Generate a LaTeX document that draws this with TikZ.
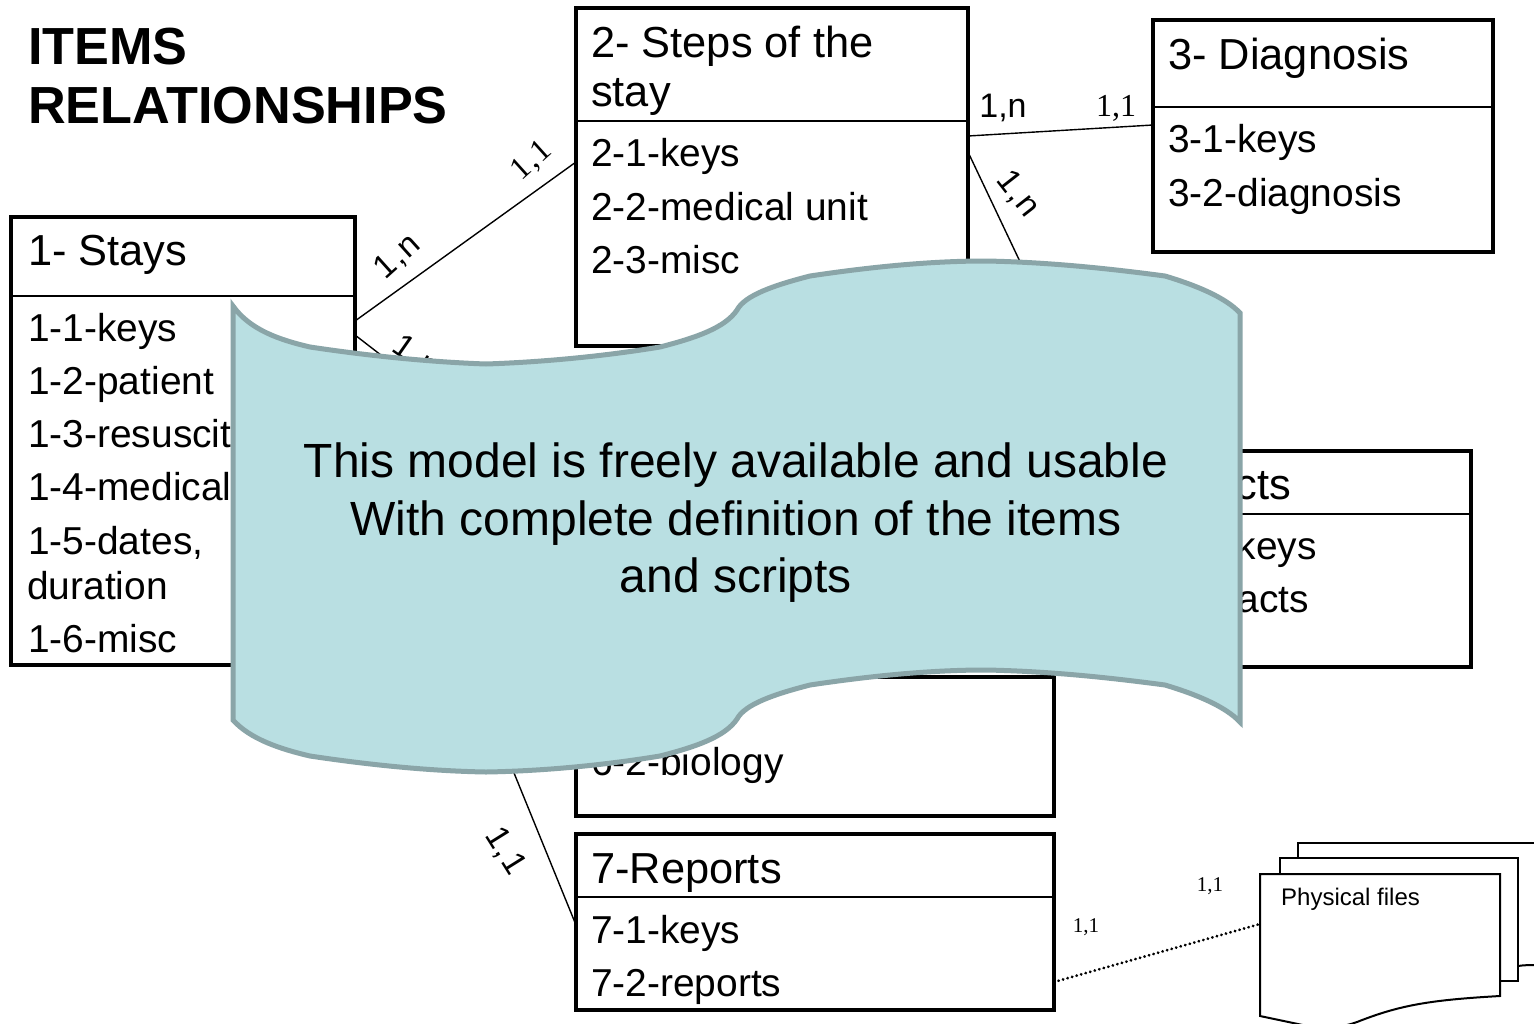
\documentclass[tikz,border=0pt]{standalone}
\usepackage{fontspec}
\setmainfont{Liberation Sans}
\newfontfamily\lblserif{Liberation Serif}
\newfontfamily\lblspaced[LetterSpace=5]{Liberation Sans}
\newfontfamily\lblserifspaced[LetterSpace=4]{Liberation Serif}
\definecolor{bannerfill}{HTML}{B9DFE2}
\definecolor{bannerline}{HTML}{8AA5A8}
\newcommand{\fs}[1]{\fontsize{#1}{#1}\selectfont}
\tikzset{
  entity/.style={draw=black,line width=4.6pt,fill=white,rectangle,outer sep=0pt,inner sep=0pt,anchor=north west},
  divider/.style={draw=black,line width=2pt},
  link/.style={draw=black,line width=1.4pt},
  head/.style={anchor=base west,inner sep=0pt,font=\fs{43.4}},
  item/.style={anchor=base west,inner sep=0pt,font=\fs{38.9}},
  heade/.style={anchor=base east,inner sep=0pt,font=\fs{43.4}},
  iteme/.style={anchor=base east,inner sep=0pt,font=\fs{38.9}},
  titletext/.style={anchor=base west,inner sep=0pt,font=\fs{52.2}\bfseries},
  cardsans/.style={inner sep=0pt,font=\fs{34}},
  cardserif/.style={inner sep=0pt,font=\fs{32}\lblserif},
  cardrot/.style={inner sep=0pt,font=\fs{33}\lblspaced},
  cardserifrot/.style={inner sep=0pt,font=\fs{32}\lblserifspaced},
  cardsmall/.style={inner sep=0pt,font=\fs{21}\lblserif},
  sheet/.style={draw=black,line width=2pt,fill=white,line join=miter},
  bannertext/.style={inner sep=0pt,font=\fs{48},align=center},
}
\begin{document}
\begin{tikzpicture}[x=1pt,y=-1pt]
\useasboundingbox (0,0) rectangle (1534,1023);
\fill[white] (0,0) rectangle (1534,1023);

% title
\node[titletext] (t1) at (28,64) {ITEMS};
\node[titletext] (t2) at (28,123) {RELATIONSHIPS};

% entities
\node[entity,minimum width=344pt,minimum height=448pt] (b1) at (11,217) {};
\node[entity,minimum width=392pt,minimum height=338pt] (b2) at (576,8) {};
\node[entity,minimum width=340pt,minimum height=232pt] (b3) at (1153,20) {};
\node[entity,minimum width=371pt,minimum height=216pt] (b4) at (1100,451) {};
\node[entity,minimum width=478pt,minimum height=139pt] (b6) at (576,677) {};
\node[entity,minimum width=478pt,minimum height=176pt] (b7) at (576,834) {};

% dividers
\draw[divider] (b1.west |- 0,296) -- (b1.east |- 0,296);
\draw[divider] (b2.west |- 0,121) -- (b2.east |- 0,121);
\draw[divider] (b3.west |- 0,107) -- (b3.east |- 0,107);
\draw[divider] (b4.west |- 0,514) -- (b4.east |- 0,514);
\draw[divider] (b7.west |- 0,897) -- (b7.east |- 0,897);

% hidden connector ends
\coordinate (h1) at (430,393);
\coordinate (h2) at (1060,346);
\coordinate (h3) at (470,665);

% connectors
\draw[link] (b1.east |- 0,321) -- (b2.west |- 0,162);
\draw[link] (b2.east |- 0,136) -- (b3.west |- 0,125);
\draw[link] (b2.east |- 0,152) -- (h2);
\draw[link] (b1.east |- 0,335) -- (h1);
\draw[link] (h3) -- (b7.west |- 0,925);

% entity texts
\node[head] (a0) at (28,265) {1- Stays};
\node[item] (a1) at (28,341) {1-1-keys};
\node[item] (a2) at (28,394) {1-2-patient};
\node[item] (a3) at (28,447) {1-3-resuscit};
\node[item] (a4) at (28,500) {1-4-medical};
\node[item] (a5) at (28,554) {1-5-dates,};
\node[item] (a6) at (27,599) {duration};
\node[item] (a7) at (28,652) {1-6-misc};

\node[head] (c0) at (591,57) {2- Steps of the};
\node[head] (c1) at (591,106) {stay};
\node[item] (c2) at (591,166) {2-1-keys};
\node[item] (c3) at (591,220) {2-2-medical unit};
\node[item] (c4) at (591,273) {2-3-misc};

\node[head] (d0) at (1168,69) {3- Diagnosis};
\node[item] (d1) at (1168,152) {3-1-keys};
\node[item] (d2) at (1168,206) {3-2-diagnosis};

\node[heade] (e0) at (1291,499) {cts};
\node[iteme] (e1) at (1317,559) {keys};
\node[iteme] (e2) at (1309,612) {acts};

\node[item] (f1) at (591,775) {6-2-biology};

\node[head] (g0) at (591,883) {7-Reports};
\node[item] (g1) at (591,943) {7-1-keys};
\node[item] (g2) at (591,996) {7-2-reports};

% cardinalities
\node[cardsans] (l1) at (1003,108) {1,n};
\node[cardserif] (l2) at (1116,108) {1,1};
\node[cardrot,rotate=-52] (l3) at (1018,194) {1,n};
\node[cardrot,rotate=42] (l4) at (398,257) {1,n};
\node[cardserifrot,rotate=42] (l5) at (532,161) {1,1};
\node[cardrot,rotate=-35] (l6) at (416,357) {1,n};
\node[cardrot,rotate=-58] (l7) at (505,851) {1,1};
\node[cardsmall] (l8) at (1210,886) {1,1};
\node[cardsmall] (l9) at (1086,927) {1,1};

% stacked document
\draw[sheet] (1298,858) -- (1298,843) -- (1540,843);
\draw[sheet] (1518,966) .. controls (1524,965) and (1530,965) .. (1540,965);
\draw[sheet] (1280,873) -- (1280,858) -- (1518,858) -- (1518,981) -- (1500,981);
\path[sheet] (1260,874) -- (1500,874) -- (1500,996)
  .. controls (1430,1000) and (1400,1005) .. (1357,1022)
  .. controls (1335,1030) and (1315,1028) .. (1298,1024)
  -- (1260,1016) -- cycle;
\node[anchor=base west,inner sep=0pt,font=\fs{24}] (p1) at (1281,905) {Physical files};
\coordinate (pf) at (1260,924);
\draw[draw=black,line width=3pt,line cap=round,dash pattern=on 0.1pt off 4.6pt] (b7.east |- 0,982) -- (pf);

% banner
\path[draw=bannerline,fill=bannerfill,line width=5pt,line join=miter,miter limit=10]
  (233,306)
  .. controls (250,330) and (280,340) .. (310,347)
  .. controls (370,356) and (430,362) .. (486,364)
  .. controls (545,362) and (605,356) .. (660,347)
  .. controls (695,338) and (725,328) .. (737,310)
  .. controls (745,295) and (775,285) .. (810,276)
  .. controls (870,267) and (930,261) .. (985,261)
  .. controls (1045,262) and (1105,268) .. (1165,276)
  .. controls (1195,285) and (1225,297) .. (1240,313)
  -- (1240,722)
  .. controls (1225,706) and (1195,694) .. (1165,685)
  .. controls (1105,677) and (1045,671) .. (985,670)
  .. controls (930,670) and (870,676) .. (810,685)
  .. controls (775,694) and (745,704) .. (737,719)
  .. controls (725,737) and (695,747) .. (660,756)
  .. controls (605,765) and (545,771) .. (486,772)
  .. controls (430,771) and (370,765) .. (310,756)
  .. controls (280,749) and (250,739) .. (233,720)
  -- cycle;
\node[bannertext] (bt) at (736,523) {This model is freely available and usable\\[9.5pt]With complete definition of the items\\[9.5pt]and scripts};
\end{tikzpicture}
\end{document}
